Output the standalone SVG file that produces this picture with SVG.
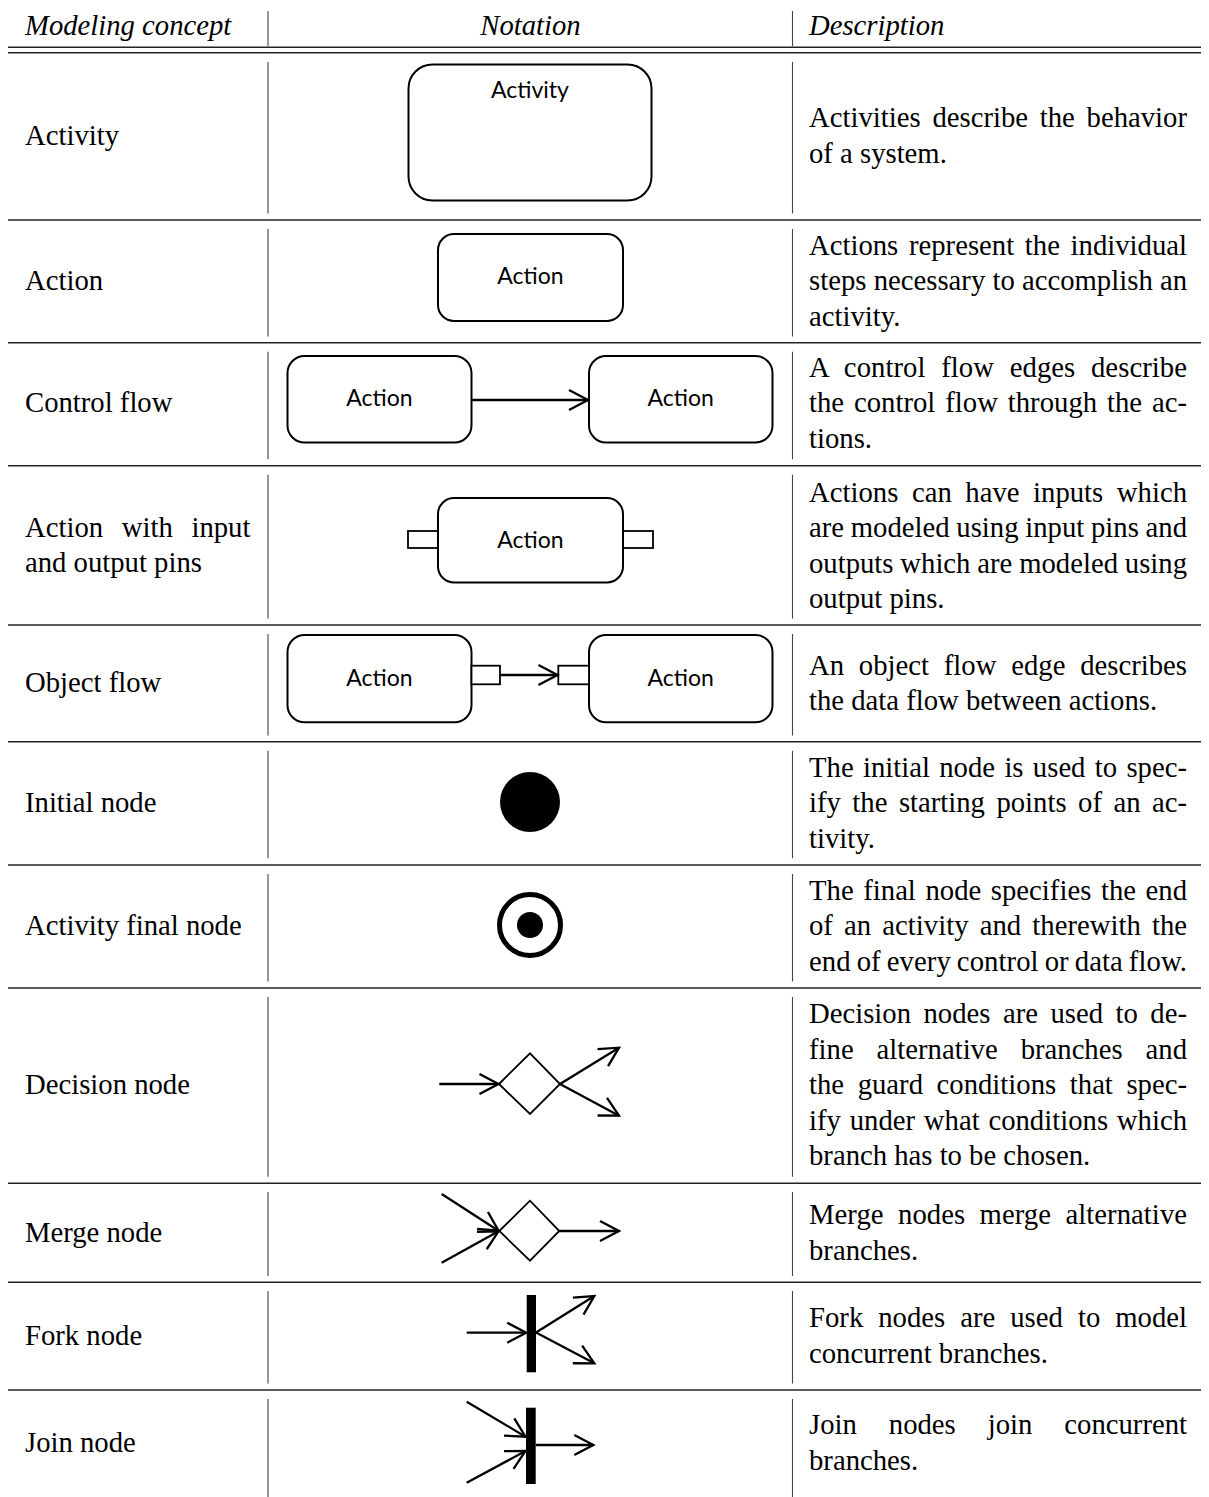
<svg xmlns="http://www.w3.org/2000/svg" width="1209" height="1497" viewBox="0 0 1209 1497">
  <style>
    .tx{font-family:"Liberation Serif","Times New Roman",serif;font-size:28.7px;fill:#000}
    .hd{font-style:italic}
    .rule{stroke:#222;stroke-width:1.4}
    .vr{stroke:#444;stroke-width:1.1}
    .box{fill:#fff;stroke:#000;stroke-width:2}
    .pin{fill:#fff;stroke:#000;stroke-width:1.8}
    .lb{font-family:Lato,"Liberation Sans",sans-serif;font-size:23px;fill:#000;text-anchor:middle}
    .edge{fill:none;stroke:#000;stroke-width:2.3}
    .shape{fill:#fff;stroke:#000;stroke-width:1.8}
  </style>
  <defs>
    <marker id="open" markerUnits="userSpaceOnUse" viewBox="-22 -12 26 24" refX="0" refY="0" markerWidth="26" markerHeight="24" orient="auto" overflow="visible">
      <path d="M-19,-10 L0,0 L-19,10" fill="none" stroke="#000" stroke-width="2.3"/>
    </marker>
  </defs>
  <rect width="1209" height="1497" fill="#fff"/>

  <!-- table rules -->
  <g id="rules">
    <line class="rule" x1="8" y1="47.3" x2="1201" y2="47.3"/>
    <line class="rule" x1="8" y1="52.8" x2="1201" y2="52.8"/>
    <line class="rule" x1="8" y1="220" x2="1201" y2="220"/>
    <line class="rule" x1="8" y1="342.7" x2="1201" y2="342.7"/>
    <line class="rule" x1="8" y1="465.7" x2="1201" y2="465.7"/>
    <line class="rule" x1="8" y1="625" x2="1201" y2="625"/>
    <line class="rule" x1="8" y1="741.7" x2="1201" y2="741.7"/>
    <line class="rule" x1="8" y1="865" x2="1201" y2="865"/>
    <line class="rule" x1="8" y1="988" x2="1201" y2="988"/>
    <line class="rule" x1="8" y1="1183.3" x2="1201" y2="1183.3"/>
    <line class="rule" x1="8" y1="1282.3" x2="1201" y2="1282.3"/>
    <line class="rule" x1="8" y1="1390" x2="1201" y2="1390"/>
  </g>
  <g id="column-rules">
    <path class="vr" d="M268,11V46 M268,62V213.5 M268,229V336.5 M268,351.7V459.3 M268,474.7V618.5 M268,634V735.5 M268,750.7V858.3 M268,874V981.5 M268,997V1176.8 M268,1192V1276 M268,1291V1383.5 M268,1399V1497"/>
    <path class="vr" d="M792.5,11V46 M792.5,62V213.5 M792.5,229V336.5 M792.5,351.7V459.3 M792.5,474.7V618.5 M792.5,634V735.5 M792.5,750.7V858.3 M792.5,874V981.5 M792.5,997V1176.8 M792.5,1192V1276 M792.5,1291V1383.5 M792.5,1399V1497"/>
  </g>

  <!-- header -->
  <g id="header" class="tx hd">
    <text x="25" y="35">Modeling concept</text>
    <text x="530.5" y="35" text-anchor="middle">Notation</text>
    <text x="809" y="35">Description</text>
  </g>

  <!-- concept names -->
  <g id="concepts" class="tx">
    <text x="25" y="145">Activity</text>
    <text x="25" y="290">Action</text>
    <text x="25" y="412">Control flow</text>
    <text x="25" y="536.8" word-spacing="11.5" textLength="225.4" lengthAdjust="spacing">Action with input</text>
    <text x="25" y="572.3">and output pins</text>
    <text x="25" y="692">Object flow</text>
    <text x="25" y="812">Initial node</text>
    <text x="25" y="935">Activity final node</text>
    <text x="25" y="1094">Decision node</text>
    <text x="25" y="1241.7">Merge node</text>
    <text x="25" y="1345">Fork node</text>
    <text x="25" y="1452">Join node</text>
  </g>

  <!-- descriptions -->
  <g id="descriptions" class="tx">
    <text x="809" y="127.3" word-spacing="4.6" textLength="378" lengthAdjust="spacing">Activities describe the behavior</text>
    <text x="809" y="162.8">of a system.</text>

    <text x="809" y="254.5" word-spacing="3.5" textLength="378" lengthAdjust="spacing">Actions represent the individual</text>
    <text x="809" y="290" textLength="378" lengthAdjust="spacing">steps necessary to accomplish an</text>
    <text x="809" y="325.5">activity.</text>

    <text x="809" y="376.5" word-spacing="8.4" textLength="378" lengthAdjust="spacing">A control flow edges describe</text>
    <text x="809" y="412" word-spacing="2.7" textLength="378" lengthAdjust="spacing">the control flow through the ac-</text>
    <text x="809" y="447.5">tions.</text>

    <text x="809" y="501.5" word-spacing="6.4" textLength="378" lengthAdjust="spacing">Actions can have inputs which</text>
    <text x="809" y="537" word-spacing="-0.4" textLength="378" lengthAdjust="spacing">are modeled using input pins and</text>
    <text x="809" y="572.5" word-spacing="-0.3" textLength="378" lengthAdjust="spacing">outputs which are modeled using</text>
    <text x="809" y="608">output pins.</text>

    <text x="809" y="674.5" word-spacing="7.6" textLength="378" lengthAdjust="spacing">An object flow edge describes</text>
    <text x="809" y="710">the data flow between actions.</text>

    <text x="809" y="776.5" word-spacing="2.15" textLength="378" lengthAdjust="spacing">The initial node is used to spec-</text>
    <text x="809" y="812" word-spacing="4.3" textLength="378" lengthAdjust="spacing">ify the starting points of an ac-</text>
    <text x="809" y="847.5">tivity.</text>

    <text x="809" y="899.5" word-spacing="2.4" textLength="378" lengthAdjust="spacing">The final node specifies the end</text>
    <text x="809" y="935" word-spacing="4" textLength="378" lengthAdjust="spacing">of an activity and therewith the</text>
    <text x="809" y="970.5" word-spacing="-1.2" textLength="378" lengthAdjust="spacing">end of every control or data flow.</text>

    <text x="809" y="1023" word-spacing="5.3" textLength="378" lengthAdjust="spacing">Decision nodes are used to de-</text>
    <text x="809" y="1058.5" word-spacing="15.8" textLength="378" lengthAdjust="spacing">fine alternative branches and</text>
    <text x="809" y="1094" word-spacing="6.4" textLength="378" lengthAdjust="spacing">the guard conditions that spec-</text>
    <text x="809" y="1129.5" word-spacing="1.6" textLength="378" lengthAdjust="spacing">ify under what conditions which</text>
    <text x="809" y="1165">branch has to be chosen.</text>

    <text x="809" y="1224" word-spacing="7.2" textLength="378" lengthAdjust="spacing">Merge nodes merge alternative</text>
    <text x="809" y="1259.5">branches.</text>

    <text x="809" y="1327" word-spacing="7.8" textLength="378" lengthAdjust="spacing">Fork nodes are used to model</text>
    <text x="809" y="1362.5">concurrent branches.</text>

    <text x="809" y="1434" word-spacing="24.8" textLength="378" lengthAdjust="spacing">Join nodes join concurrent</text>
    <text x="809" y="1469.5">branches.</text>
  </g>

  <!-- notation: activity -->
  <g id="activity">
    <rect class="box" x="408.5" y="64.5" width="243" height="136" rx="24"/>
    <text class="lb" x="530" y="98.3">Activity</text>
  </g>

  <!-- notation: action -->
  <g id="action">
    <rect class="box" x="438" y="234" width="185" height="87" rx="16"/>
    <text class="lb" x="530.5" y="284">Action</text>
  </g>

  <!-- notation: control flow -->
  <g id="cf-source">
    <rect class="box" x="287.5" y="356" width="184" height="86.5" rx="17"/>
    <text class="lb" x="379.5" y="405.7">Action</text>
  </g>
  <g id="cf-target">
    <rect class="box" x="589" y="356" width="183.5" height="86.5" rx="17"/>
    <text class="lb" x="680.7" y="405.7">Action</text>
  </g>

  <!-- notation: action with pins -->
  <g id="pinned-action">
    <rect class="pin" x="408" y="531" width="30" height="17"/>
    <rect class="pin" x="623" y="531" width="30" height="17"/>
    <rect class="box" x="438" y="498" width="185" height="84.5" rx="16"/>
    <text class="lb" x="530.5" y="548">Action</text>
  </g>

  <!-- notation: object flow -->
  <g id="of-source">
    <rect class="box" x="287.5" y="635" width="184" height="87.3" rx="17"/>
    <rect class="pin" x="471.5" y="665.7" width="28.5" height="18.6"/>
    <text class="lb" x="379.5" y="685.7">Action</text>
  </g>
  <g id="of-target">
    <rect class="box" x="589" y="635" width="183.5" height="87.3" rx="17"/>
    <rect class="pin" x="558.3" y="665.7" width="30.7" height="18.6"/>
    <text class="lb" x="680.7" y="685.7">Action</text>
  </g>

  <!-- notation: initial and final nodes -->
  <g id="initial-node">
    <circle cx="530" cy="802" r="30" fill="#000"/>
  </g>
  <g id="final-node">
    <circle cx="530" cy="925" r="30.5" fill="#fff" stroke="#000" stroke-width="5"/>
    <circle cx="530" cy="925" r="13" fill="#000"/>
  </g>

  <!-- notation: decision and merge -->
  <g id="decision-node">
    <path class="shape" d="M499,1084 L530,1053.3 L560,1084 L530,1114 Z"/>
  </g>
  <g id="merge-node">
    <path class="shape" d="M499.3,1231 L530,1200.7 L559.3,1231 L530,1260.7 Z"/>
  </g>

  <!-- notation: fork and join bars -->
  <g id="fork-node">
    <rect x="526.7" y="1295" width="9.3" height="77.3" fill="#000"/>
  </g>
  <g id="join-node">
    <rect x="526" y="1407.7" width="9.7" height="76.3" fill="#000"/>
  </g>

  <!-- connectors -->
  <g id="connectors">
    <line class="edge" x1="471.5" y1="400" x2="588" y2="400" marker-end="url(#open)"/>
    <line class="edge" x1="500" y1="675" x2="557.5" y2="675" marker-end="url(#open)"/>

    <line class="edge" x1="439.3" y1="1084" x2="498.5" y2="1084" marker-end="url(#open)"/>
    <line class="edge" x1="560" y1="1084" x2="619" y2="1047.7" marker-end="url(#open)"/>
    <line class="edge" x1="560" y1="1084" x2="619" y2="1115.7" marker-end="url(#open)"/>

    <line class="edge" x1="441.7" y1="1194" x2="498.5" y2="1230.7" marker-end="url(#open)"/>
    <line class="edge" x1="441.7" y1="1262.7" x2="498.5" y2="1231.3" marker-end="url(#open)"/>
    <line class="edge" x1="559.3" y1="1231" x2="619" y2="1231" marker-end="url(#open)"/>

    <line class="edge" x1="466.7" y1="1332.7" x2="526.2" y2="1332.7" marker-end="url(#open)"/>
    <line class="edge" x1="536" y1="1332.5" x2="594.3" y2="1296" marker-end="url(#open)"/>
    <line class="edge" x1="536" y1="1332.5" x2="594.3" y2="1363.3" marker-end="url(#open)"/>

    <line class="edge" x1="466.7" y1="1401.7" x2="525.5" y2="1436.7" marker-end="url(#open)"/>
    <line class="edge" x1="466.7" y1="1482.7" x2="525.5" y2="1451" marker-end="url(#open)"/>
    <line class="edge" x1="535.7" y1="1445" x2="593.3" y2="1445" marker-end="url(#open)"/>
  </g>
</svg>
